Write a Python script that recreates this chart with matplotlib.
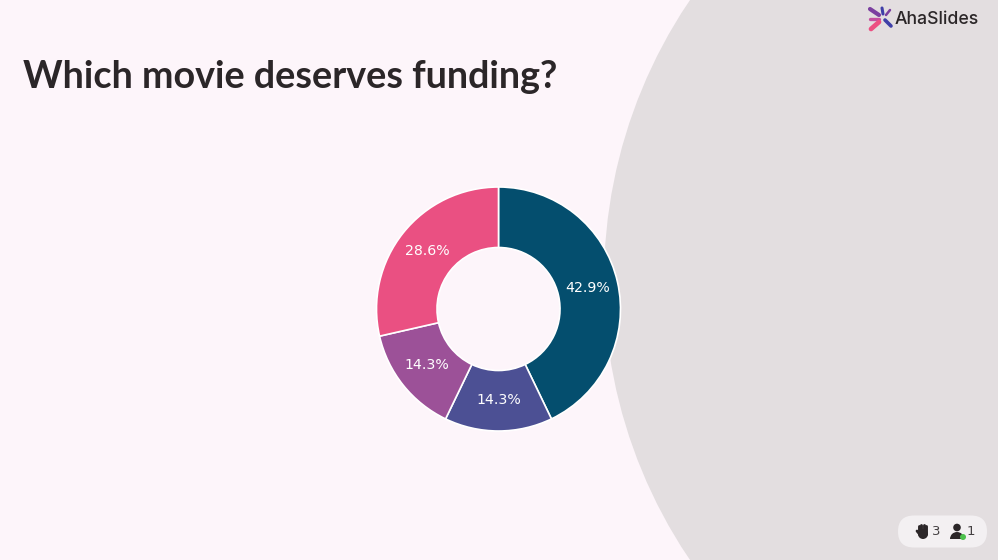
#!/usr/bin/env python3
"""Donut chart slide: Which movie deserves funding?"""

import matplotlib

matplotlib.use("Agg")
import matplotlib.pyplot as plt
from matplotlib.patches import Circle, FancyBboxPatch, Wedge

WIDTH, HEIGHT = 998, 560

TITLE = "Which movie deserves funding?"
SHARES = [42.9, 14.3, 14.3, 28.6]
COLORS = ["#044E6E", "#4C5094", "#9C5198", "#EA5082"]
BRAND = "AhaSlides"
HANDS = "3"
USERS = "1"

BACKGROUND = "#FDF5FA"
GREY = "#E3DEE0"
DARK = "#2B2628"

fig = plt.figure(figsize=(WIDTH / 100, HEIGHT / 100), dpi=100, facecolor=BACKGROUND)

# Hintergrundebene in Pixelkoordinaten (y nach unten)
bg = fig.add_axes([0, 0, 1, 1])
bg.set_xlim(0, WIDTH)
bg.set_ylim(HEIGHT, 0)
bg.axis("off")
bg.add_patch(Circle((1103, 280), 499, color=GREY, lw=0))

bg.text(23, 88, TITLE, fontsize=27.2, fontweight="bold", family="Lato",
        color=DARK, va="baseline", ha="left")

# Logo
logo_strokes = [
    ((870, 9), (879, 15), "#7B3FA0", 3.0),
    ((882, 8), (883, 14), "#3F3FA8", 2.2),
    ((890, 10), (886, 15), "#7B3FA0", 1.8),
    ((870, 19), (879, 19), "#C44FA0", 2.4),
    ((885, 20), (891, 26), "#3F3FA8", 2.6),
    ((879, 22), (871, 29), "#EC4F82", 3.4),
]
for start, end, color, width in logo_strokes:
    bg.plot([start[0], end[0]], [start[1], end[1]], color=color, lw=width,
            solid_capstyle="round")
bg.text(895, 20, BRAND, fontsize=12.7, family="Inter", fontweight="medium",
        color=DARK, va="center", ha="left")

# Statuspille unten rechts
bg.add_patch(FancyBboxPatch((898, 515.5), 89, 32, boxstyle="round,pad=0,rounding_size=16",
                            fc="#F3F0F2", ec="none"))
for x, top, bottom in [(919, 526, 534), (921.5, 525, 534), (924, 525, 534), (926.5, 526, 534)]:
    bg.plot([x, x], [top, bottom], color=DARK, lw=2.1, solid_capstyle="round")
bg.add_patch(Circle((923, 534), 5, color=DARK, lw=0))
bg.plot([917, 919.5], [531, 534], color=DARK, lw=2, solid_capstyle="round")
bg.text(932, 531.5, HANDS, fontsize=9.5, color="#444042", va="center", ha="left")

bg.add_patch(Circle((957, 527.5), 3.8, color=DARK, lw=0))
bg.add_patch(Wedge((957, 539), 7, 180, 360, color=DARK, lw=0))
bg.add_patch(Circle((963, 537), 3, color="#4CC04C", lw=0))
bg.text(967, 531.5, USERS, fontsize=9.5, color="#444042", va="center", ha="left")

# Donut
center_x, center_y, radius = 498.5, 309, 122
ax = fig.add_axes([(center_x - radius) / WIDTH, (HEIGHT - center_y - radius) / HEIGHT,
                   2 * radius / WIDTH, 2 * radius / HEIGHT])
wedges, _, autotexts = ax.pie(
    SHARES,
    colors=COLORS,
    startangle=90,
    counterclock=False,
    radius=1,
    autopct="%.1f%%",
    pctdistance=0.75,
    wedgeprops={"width": 60.5 / 122, "edgecolor": "white", "linewidth": 1.2},
    textprops={"color": "white", "fontsize": 10.2},
)
ax.set_xlim(-1, 1)
ax.set_ylim(-1, 1)
for wedge in wedges:
    wedge.set_clip_on(False)
for label in autotexts:
    label.set_y(label.get_position()[1] + 0.006)

fig.savefig("out.png", dpi=100, facecolor=BACKGROUND)
plt.close(fig)
